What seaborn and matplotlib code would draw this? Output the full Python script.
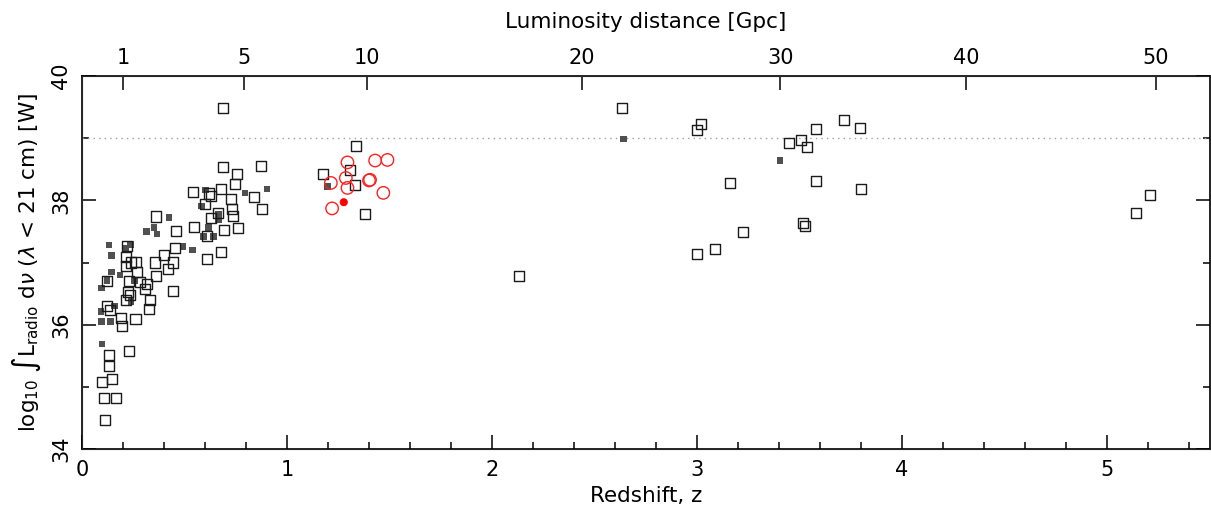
import matplotlib
matplotlib.use("Agg")
import matplotlib.pyplot as plt
import seaborn as sns
from matplotlib.ticker import MultipleLocator

# open squares (main sample)
z_open = [0.690, 0.688, 0.756, 0.873, 0.746, 0.540, 0.619, 0.631, 0.676, 0.725,
          0.839, 0.600, 0.730, 0.876, 0.736, 0.631, 0.665, 0.361, 0.459, 0.545,
          0.691, 0.761, 0.611, 0.680, 0.608, 0.454, 0.400, 0.444, 0.420, 0.361,
          0.358, 0.218, 0.217, 0.213, 0.240, 0.261, 0.269, 0.230, 0.285, 0.306,
          0.316, 0.123, 0.222, 0.235, 0.217, 0.446, 0.332, 0.325, 0.123, 0.137,
          0.191, 0.196, 0.261, 0.228, 0.134, 0.134, 0.144, 0.097, 0.105, 0.166,
          0.110,
          1.337, 1.175, 1.308, 1.331, 1.381,
          2.130,
          2.636, 3.021, 3.001, 3.160, 3.225, 2.998, 3.086, 3.451, 3.506, 3.537,
          3.581, 3.717, 3.797, 3.579, 3.802, 3.516, 3.526,
          5.208, 5.140]
L_open = [39.49, 38.54, 38.42, 38.56, 38.27, 38.13, 38.11, 38.07, 38.18, 38.02,
          38.05, 37.94, 37.86, 37.86, 37.75, 37.71, 37.79, 37.74, 37.51, 37.57,
          37.52, 37.55, 37.43, 37.17, 37.05, 37.23, 37.12, 37.00, 36.89, 36.79,
          37.00, 37.26, 37.09, 36.95, 37.00, 37.01, 36.84, 36.71, 36.68, 36.58,
          36.66, 36.71, 36.52, 36.47, 36.40, 36.54, 36.39, 36.25, 36.30, 36.23,
          36.10, 35.98, 36.09, 35.58, 35.51, 35.34, 35.12, 35.08, 34.82, 34.82,
          34.46,
          38.87, 38.42, 38.49, 38.24, 37.78,
          36.78,
          39.49, 39.23, 39.13, 38.28, 37.49, 37.13, 37.21, 38.92, 38.97, 38.86,
          39.15, 39.29, 39.16, 38.31, 38.19, 37.64, 37.58,
          38.09, 37.79]

# small filled squares
z_fill = [0.602, 0.582, 0.667, 0.667, 0.795, 0.902, 0.425, 0.352, 0.366, 0.314,
          0.616, 0.641, 0.593, 0.493, 0.538, 0.132, 0.236, 0.144, 0.215, 0.144,
          0.186, 0.094, 0.240, 0.256, 0.158, 0.092, 0.094, 0.139, 0.098, 0.123,
          1.197, 2.641, 3.406]
L_fill = [38.17, 37.91, 37.78, 37.68, 38.12, 38.18, 37.72, 37.56, 37.46, 37.50,
          37.56, 37.42, 37.42, 37.26, 37.20, 37.28, 37.29, 37.11, 37.23, 36.85,
          36.80, 36.59, 36.37, 36.71, 36.30, 36.21, 36.05, 36.05, 35.69, 36.71,
          38.22, 38.99, 38.64]

# red circles
z_red = [1.295, 1.430, 1.490, 1.214, 1.287, 1.295, 1.400, 1.405, 1.470, 1.220]
L_red = [38.61, 38.64, 38.65, 38.28, 38.36, 38.20, 38.32, 38.33, 38.12, 37.87]
z_red_fill = [1.277]
L_red_fill = [37.97]

# luminosity distance ticks (Gpc) and their redshift positions
dl_labels = ["1", "5", "10", "20", "30", "40", "50"]
dl_z = [0.202, 0.791, 1.39, 2.44, 3.407, 4.313, 5.239]

sns.set_style("ticks")
plt.rcParams["font.family"] = ["DejaVu Sans"]
plt.rcParams["mathtext.fontset"] = "dejavusans"
plt.rcParams["text.color"] = "black"
plt.rcParams["axes.labelcolor"] = "black"
plt.rcParams["xtick.color"] = "black"
plt.rcParams["ytick.color"] = "black"

fig = plt.figure(figsize=(12.11, 5.12), dpi=100)
ax = fig.add_axes([82 / 1211, 63 / 512, 1127.5 / 1211, 373 / 512])

ax.axhline(39, color="#a0a0a0", linestyle=(0, (1, 3)), lw=1, zorder=1)

sns.scatterplot(x=z_fill, y=L_fill, ax=ax, marker="s", s=22, color="#505050",
                edgecolor="none", zorder=2)
sns.scatterplot(x=z_open, y=L_open, ax=ax, marker="s", s=52, facecolors="none",
                edgecolor="#1a1a1a", linewidth=1.0, zorder=3)
sns.scatterplot(x=z_red, y=L_red, ax=ax, marker="o", s=80, facecolors="none",
                edgecolor="#ff2020", linewidth=1.0, zorder=4)
sns.scatterplot(x=z_red_fill, y=L_red_fill, ax=ax, marker="o", s=34,
                color="#ff0000", edgecolor="none", zorder=4)

ax.set_xlim(0, 5.5)
ax.set_ylim(34, 40)
ax.xaxis.set_major_locator(MultipleLocator(1))
ax.xaxis.set_minor_locator(MultipleLocator(0.2))
ax.yaxis.set_major_locator(MultipleLocator(2))
ax.yaxis.set_minor_locator(MultipleLocator(1))
ax.tick_params(which="both", direction="in", top=False, right=True,
               labelsize=15, width=1.1, colors="black")
ax.tick_params(which="major", length=10, pad=8)
ax.tick_params(which="minor", length=5)
for lab in ax.get_yticklabels():
    lab.set_rotation(90)
    lab.set_va("center")
for sp in ax.spines.values():
    sp.set_visible(True)
    sp.set_linewidth(1.2)
    sp.set_color("black")

ax.set_xlabel("Redshift, z", fontsize=15.5, labelpad=4)
ax.set_ylabel(r"log$_{10}$ $\int$L$_{\rm radio}$ d$\nu$ ($\lambda$ < 21 cm) [W]",
              fontsize=15.5, labelpad=6)

ax2 = ax.twiny()
ax2.set_xlim(ax.get_xlim())
ax2.set_xticks(dl_z)
ax2.set_xticklabels(dl_labels)
ax2.xaxis.set_minor_locator(plt.NullLocator())
ax2.tick_params(direction="in", length=10, width=1.1, labelsize=15, pad=6,
                colors="black")
ax2.set_xlabel("Luminosity distance [Gpc]", fontsize=15.5, labelpad=14)

fig.savefig("out.png", dpi=100)
